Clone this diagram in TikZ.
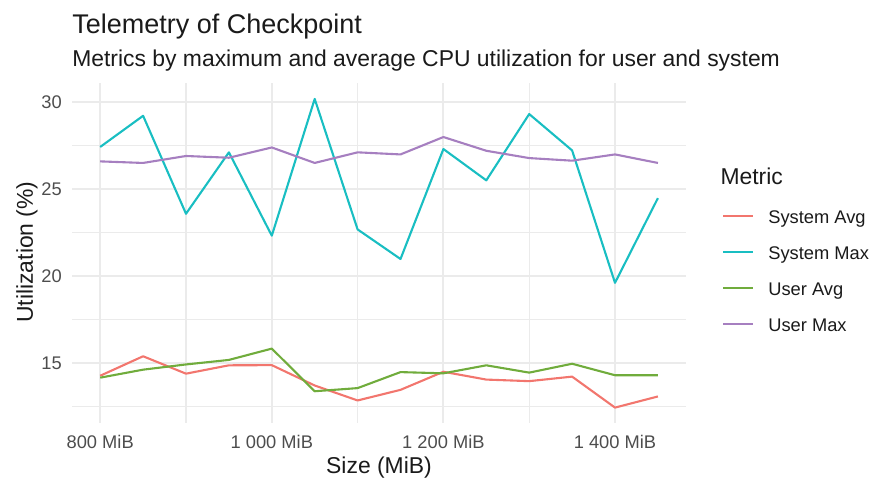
\documentclass[tikz,border=0pt]{standalone}
\usepackage{fontspec}
\setmainfont{Liberation Sans}
\begin{document}
\begin{tikzpicture}[x=1pt,y=-1pt,
  every node/.style={inner sep=0pt, outer sep=0pt},
  major/.style={draw={rgb,255:red,235;green,235;blue,235}, line width=2.1pt},
  minor/.style={draw={rgb,255:red,235;green,235;blue,235}, line width=1.1pt},
  series/.style={line width=2.1pt, line join=round},
  sysavg/.style={series, draw={rgb,255:red,242;green,118;blue,110}},
  sysmax/.style={series, draw={rgb,255:red,25;green,190;blue,194}},
  usravg/.style={series, draw={rgb,255:red,112;green,172;blue,60}},
  usrmax/.style={series, draw={rgb,255:red,166;green,127;blue,192}},
  ticklabel/.style={font=\fontsize{18.3}{22}\selectfont, text={rgb,255:red,77;green,77;blue,77}},
  bigtext/.style={font=\fontsize{22.9}{27}\selectfont, text={rgb,255:red,26;green,26;blue,26}},
  legendtext/.style={font=\fontsize{18.3}{22}\selectfont, text={rgb,255:red,26;green,26;blue,26}}]
\useasboundingbox (0,0) rectangle (872,478);
% titles
\node[anchor=base west, font=\fontsize{27}{32}\selectfont, text={rgb,255:red,26;green,26;blue,26}] (title) at (72.3,33.3) {Telemetry of Checkpoint};
\node[anchor=base west, bigtext] (subtitle) at (72.3,66.7) {Metrics by maximum and average CPU utilization for user and system};
% panel in data units (MiB, %)
\begin{scope}[shift={(-586.2pt,-624.4pt)}, x=0.858pt, y=17.4pt]
\draw[minor] (767.5,12.5) -- (1482.5,12.5);
\draw[minor] (767.5,17.5) -- (1482.5,17.5);
\draw[minor] (767.5,22.5) -- (1482.5,22.5);
\draw[minor] (767.5,27.5) -- (1482.5,27.5);
\draw[minor] (900,11.57) -- (900,31.09);
\draw[minor] (1100,11.57) -- (1100,31.09);
\draw[minor] (1300,11.57) -- (1300,31.09);
\draw[major] (767.5,15) -- (1482.5,15);
\draw[major] (767.5,20) -- (1482.5,20);
\draw[major] (767.5,25) -- (1482.5,25);
\draw[major] (767.5,30) -- (1482.5,30);
\draw[major] (800,11.57) -- (800,31.09);
\draw[major] (1000,11.57) -- (1000,31.09);
\draw[major] (1200,11.57) -- (1200,31.09);
\draw[major] (1400,11.57) -- (1400,31.09);
\draw[sysavg] plot coordinates {(800,14.29) (850,15.41) (900,14.41) (950,14.89) (1000,14.90) (1050,13.73) (1100,12.87) (1150,13.48) (1200,14.52) (1250,14.07) (1300,13.98) (1350,14.24) (1400,12.46) (1450,13.10)};
\draw[sysmax] plot coordinates {(800,27.44) (850,29.23) (900,23.60) (950,27.13) (1000,22.34) (1050,30.20) (1100,22.70) (1150,21.00) (1200,27.32) (1250,25.52) (1300,29.33) (1350,27.24) (1400,19.63) (1450,24.50)};
\draw[usravg] plot coordinates {(800,14.18) (850,14.64) (900,14.94) (950,15.20) (1000,15.85) (1050,13.40) (1100,13.58) (1150,14.50) (1200,14.43) (1250,14.89) (1300,14.47) (1350,14.98) (1400,14.32) (1450,14.32)};
\draw[usrmax] plot coordinates {(800,26.61) (850,26.52) (900,26.92) (950,26.82) (1000,27.41) (1050,26.52) (1100,27.13) (1150,27.01) (1200,28.01) (1250,27.22) (1300,26.80) (1350,26.65) (1400,27.01) (1450,26.52)};
\end{scope}
% axis labels
\node[anchor=east, ticklabel] (y15) at (61.7,363.4) {15};
\node[anchor=east, ticklabel] (y20) at (61.7,276.4) {20};
\node[anchor=east, ticklabel] (y25) at (61.7,189.4) {25};
\node[anchor=east, ticklabel] (y30) at (61.7,102.4) {30};
\node[anchor=base, ticklabel] (x800) at (100.2,448.3) {800 MiB};
\node[anchor=base, ticklabel] (x1000) at (271.8,448.3) {1 000 MiB};
\node[anchor=base, ticklabel] (x1200) at (443.4,448.3) {1 200 MiB};
\node[anchor=base, ticklabel] (x1400) at (615.0,448.3) {1 400 MiB};
\node[anchor=base, bigtext] (xtitle) at (379,473.5) {Size (MiB)};
\node[anchor=base, bigtext, rotate=90] (ytitle) at (32.8,252) {Utilization (\%)};
% legend
\node[anchor=base west, bigtext] (legtitle) at (720.5,184.3) {Metric};
\draw[sysavg] (723.3,216.0) -- (752.7,216.0);
\draw[sysmax] (723.3,252.3) -- (752.7,252.3);
\draw[usravg] (723.3,288.3) -- (752.7,288.3);
\draw[usrmax] (723.3,324.0) -- (752.7,324.0);
\node[anchor=base west, legendtext] (keysysavg) at (768.3,223.2) {System Avg};
\node[anchor=base west, legendtext] (keysysmax) at (768.3,259.5) {System Max};
\node[anchor=base west, legendtext] (keyusravg) at (768.3,295.5) {User Avg};
\node[anchor=base west, legendtext] (keyusrmax) at (768.3,331.2) {User Max};
\end{tikzpicture}
\end{document}
